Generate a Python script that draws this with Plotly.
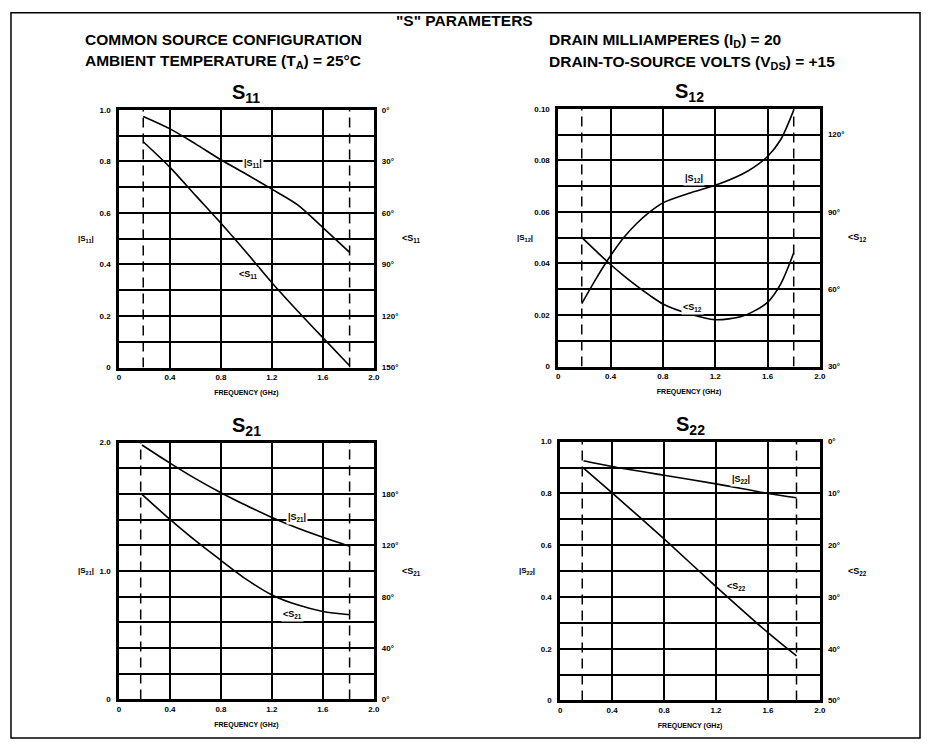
import plotly.graph_objects as go

# page offset of the plot div (default body margin) and figure size
OFF = 8
W, H = 935 - 2 * OFF, 749 - 2 * OFF

# ---------------- data ----------------
s11_freq = [0.19, 0.4, 0.6, 0.8, 1.0, 1.2, 1.4, 1.6, 1.81]
s11_mag = [0.974, 0.926, 0.868, 0.806, 0.75, 0.692, 0.632, 0.543, 0.447]
s11_ang = [18.6, 33.5, 49.8, 66.0, 83.0, 100.6, 116.9, 132.6, 148.9]

s12_freq = [0.18, 0.3, 0.4, 0.5, 0.6, 0.7, 0.8, 1.0, 1.2, 1.4, 1.5, 1.6, 1.7, 1.8]
s12_mag = [0.0244, 0.0350, 0.0430, 0.0500, 0.0555, 0.0600, 0.0635, 0.0672, 0.0703,
           0.0745, 0.0775, 0.0815, 0.0880, 0.0995]
s12_ang = [80.1, 74.3, 69.6, 65.3, 61.3, 57.6, 54.3, 50.5, 48.2, 49.4, 51.6, 54.9, 62.0, 74.1]

s21_freq = [0.18, 0.4, 0.6, 0.8, 1.0, 1.2, 1.4, 1.6, 1.81]
s21_mag = [1.982, 1.841, 1.72, 1.61, 1.51, 1.417, 1.335, 1.263, 1.194]
s21_ang = [159.7, 140.2, 123.6, 108.3, 93.5, 81.4, 73.7, 68.5, 66.0]

s22_freq = [0.18, 0.4, 0.8, 1.2, 1.6, 1.82]
s22_mag = [0.926, 0.904, 0.870, 0.837, 0.800, 0.783]
s22_ang = [5.1, 9.9, 18.8, 28.0, 36.9, 41.4]

freq_ticks = [0, 0.4, 0.8, 1.2, 1.6, 2.0]
freq_ticktext = ["0", "0.4", "0.8", "1.2", "1.6", "2.0"]

s11_mag_ticks = [i / 10 for i in range(11)]
s11_mag_text = ["0", "", "0.2", "", "0.4", "", "0.6", "", "0.8", "", "1.0"]
s11_ang_ticks = [0, 30, 60, 90, 120, 150]
s11_ang_text = ["0°", "30°", "60°", "90°", "120°", "150°"]

s12_mag_ticks = [i / 100 for i in range(11)]
s12_mag_text = ["0", "", "0.02", "", "0.04", "", "0.06", "", "0.08", "", "0.10"]
s12_ang_ticks = [30, 60, 90, 120]
s12_ang_text = ["30°", "60°", "90°", "120°"]

s21_mag_ticks = [i / 5 for i in range(11)]
s21_mag_text = ["0", "", "", "", "", "1.0", "", "", "", "", "2.0"]
s21_ang_ticks = [0, 40, 80, 120, 160]
s21_ang_text = ["0°", "40°", "80°", "120°", "180°"]

s22_mag_ticks = [i / 10 for i in range(11)]
s22_mag_text = ["0", "", "0.2", "", "0.4", "", "0.6", "", "0.8", "", "1.0"]
s22_ang_ticks = [0, 10, 20, 30, 40, 50]
s22_ang_text = ["0°", "10°", "20°", "30°", "40°", "50°"]

FONT = "Liberation Sans, Arial, sans-serif"


def px(x):
    return (x - OFF) / W


def py(y):
    return 1 - (y - OFF) / H


# panel definitions: pixel boxes in page coords (left, right, top, bottom)
panels = [
    dict(name="11", box=(118, 375, 107, 368), freq=s11_freq, mag=s11_mag, ang=s11_ang,
         mrange=[0, 1.0], mt=s11_mag_ticks, mtt=s11_mag_text,
         arange=[150, 0], at=s11_ang_ticks, att=s11_ang_text,
         dash=[0.19, 1.81],
         lab_mag=(1.05, 0.79), lab_ang=(1.01, 0.36)),
    dict(name="12", box=(561, 825, 106, 367), freq=s12_freq, mag=s12_mag, ang=s12_ang,
         mrange=[0, 0.10], mt=s12_mag_ticks, mtt=s12_mag_text,
         arange=[30, 130], at=s12_ang_ticks, att=s12_ang_text,
         dash=[0.18, 1.80],
         lab_mag=(1.04, 0.0731), lab_ang=(1.03, 0.0230)),
    dict(name="21", box=(118, 375, 444, 704), freq=s21_freq, mag=s21_mag, ang=s21_ang,
         mrange=[0, 2.0], mt=s21_mag_ticks, mtt=s21_mag_text,
         arange=[0, 200], at=s21_ang_ticks, att=s21_ang_text,
         dash=[0.17, 1.81],
         lab_mag=(1.40, 1.42), lab_ang=(1.36, 0.66)),
    dict(name="22", box=(563, 825, 443, 705), freq=s22_freq, mag=s22_mag, ang=s22_ang,
         mrange=[0, 1.0], mt=s22_mag_ticks, mtt=s22_mag_text,
         arange=[50, 0], at=s22_ang_ticks, att=s22_ang_text,
         dash=[0.17, 1.82],
         lab_mag=(1.39, 0.853), lab_ang=(1.36, 0.44)),
]

fig = go.Figure()
layout = dict(
    width=W, height=H,
    margin=dict(l=0, r=0, t=0, b=0),
    paper_bgcolor="white", plot_bgcolor="white",
    showlegend=False,
    font=dict(family=FONT, color="black"),
)
annotations = []
shapes = []

tickfont = dict(family=FONT, size=8, color="black", weight="bold")
labfont = dict(family=FONT, size=9, color="black", weight="bold")

for i, p in enumerate(panels):
    xi = i + 1
    yl = 2 * i + 1
    yr = 2 * i + 2
    l, r, t, b = p["box"]
    xdom = [px(l), px(r)]
    ydom = [py(b), py(t)]
    xname = "xaxis" if xi == 1 else f"xaxis{xi}"
    ylname = "yaxis" if yl == 1 else f"yaxis{yl}"
    yrname = f"yaxis{yr}"
    xref = "x" if xi == 1 else f"x{xi}"
    ylref = "y" if yl == 1 else f"y{yl}"
    yrref = f"y{yr}"

    layout[xname] = dict(
        domain=xdom, anchor=ylref, range=[0, 2.0],
        tickvals=freq_ticks, ticktext=freq_ticktext,
        showgrid=True, gridcolor="black", gridwidth=1.5,
        showline=True, linecolor="black", linewidth=2.5, mirror=True,
        ticks="", tickfont=tickfont, zeroline=False,
        title=dict(text="FREQUENCY (GHz)", font=dict(family=FONT, size=7, color="black", weight="bold"),
                   standoff=10),
        fixedrange=True,
    )
    layout[ylname] = dict(
        domain=ydom, anchor=xref, range=p["mrange"],
        tickvals=p["mt"], ticktext=p["mtt"],
        showgrid=True, gridcolor="black", gridwidth=1.5,
        showline=True, linecolor="black", linewidth=2.5, mirror=True,
        ticks="", tickfont=tickfont, zeroline=False, ticklabelstandoff=4,
    )
    layout[yrname] = dict(
        domain=ydom, anchor=xref, overlaying=ylref, side="right",
        range=p["arange"], tickvals=p["at"], ticktext=p["att"],
        showgrid=False, showline=False, zeroline=False,
        ticks="", tickfont=tickfont, ticklabelstandoff=7,
    )

    # dashed band limits
    for dx in p["dash"]:
        fig.add_trace(go.Scatter(
            x=[dx, dx], y=p["mrange"], mode="lines",
            line=dict(color="black", width=1.5, dash="10px,6px"),
            xaxis=xref, yaxis=ylref, hoverinfo="skip"))

    fig.add_trace(go.Scatter(
        x=p["freq"], y=p["mag"], mode="lines",
        line=dict(color="black", width=1.6, shape="spline", smoothing=0.8),
        xaxis=xref, yaxis=ylref, name=f"|S{p['name']}|"))
    fig.add_trace(go.Scatter(
        x=p["freq"], y=p["ang"], mode="lines",
        line=dict(color="black", width=1.6, shape="spline", smoothing=0.8),
        xaxis=xref, yaxis=yrref, name=f"<S{p['name']}"))

    # curve labels
    annotations.append(dict(
        x=p["lab_mag"][0], y=p["lab_mag"][1], xref=xref, yref=ylref,
        xanchor="center", yanchor="middle",
        text=f"|S<sub>{p['name']}</sub>|", showarrow=False,
        bgcolor="white", font=labfont))
    annotations.append(dict(
        x=p["lab_ang"][0], y=p["lab_ang"][1], xref=xref, yref=ylref,
        xanchor="center", yanchor="middle",
        text=f"&lt;S<sub>{p['name']}</sub>", showarrow=False,
        bgcolor="white", font=labfont))

    # panel title
    annotations.append(dict(
        x=px((l + r) / 2), y=py(t - 16), xref="paper", yref="paper",
        xanchor="center", yanchor="middle",
        text=f"S<sub>{p['name']}</sub>", showarrow=False,
        font=dict(family=FONT, size=20, color="black", weight="bold")))
    # left axis title
    annotations.append(dict(
        x=px(l - 33), y=py((t + b) / 2), xref="paper", yref="paper",
        xanchor="center", yanchor="middle",
        text=f"|S<sub>{p['name']}</sub>|", showarrow=False,
        font=dict(family=FONT, size=8, color="black", weight="bold")))
    # right axis title
    annotations.append(dict(
        x=px(r + 38), y=py((t + b) / 2), xref="paper", yref="paper",
        xanchor="center", yanchor="middle",
        text=f"&lt;S<sub>{p['name']}</sub>", showarrow=False,
        font=dict(family=FONT, size=9, color="black", weight="bold")))

# header text
hfont = dict(family=FONT, size=15.5, color="black", weight="bold")
annotations += [
    dict(x=px(466), y=py(17), xref="paper", yref="paper", xanchor="center", yanchor="middle",
         text='"S" PARAMETERS', showarrow=False, font=hfont),
    dict(x=px(82), y=py(36), xref="paper", yref="paper", xanchor="left", yanchor="middle",
         text="COMMON SOURCE CONFIGURATION", showarrow=False, font=hfont),
    dict(x=px(82), y=py(58), xref="paper", yref="paper", xanchor="left", yanchor="middle",
         text="AMBIENT TEMPERATURE (T<sub>A</sub>) = 25°C", showarrow=False, font=hfont),
    dict(x=px(550), y=py(37), xref="paper", yref="paper", xanchor="left", yanchor="middle",
         text="DRAIN MILLIAMPERES (I<sub>D</sub>) = 20", showarrow=False, font=hfont),
    dict(x=px(550), y=py(59), xref="paper", yref="paper", xanchor="left", yanchor="middle",
         text="DRAIN-TO-SOURCE VOLTS (V<sub>DS</sub>) = +15", showarrow=False, font=hfont),
]

shapes.append(dict(type="rect", xref="paper", yref="paper",
                   x0=px(9), x1=px(926), y0=py(743), y1=py(8.8),
                   line=dict(color="black", width=1.5)))

layout["annotations"] = annotations
layout["shapes"] = shapes
fig.update_layout(**layout)
fig.write_html("out.html")
